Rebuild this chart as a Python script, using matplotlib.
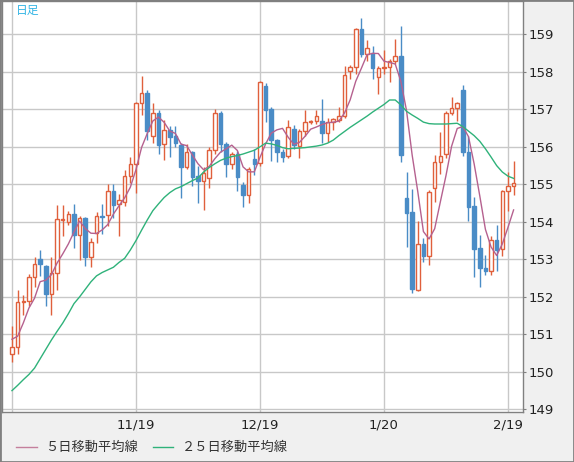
import matplotlib
matplotlib.use("Agg")
import matplotlib.pyplot as plt
from matplotlib.patches import Rectangle
from matplotlib.lines import Line2D
import pandas as pd

# dzienne świece (dni robocze 2025-10-20 .. 2026-02-20)
dates = pd.bdate_range("2025-10-20", "2026-02-20")

opens = [150.47, 150.65, 151.85, 151.89, 152.52, 153.01, 152.82, 152.07, 152.63, 154.05,
         154.00, 154.20, 153.66, 154.10, 153.07, 153.70, 154.16, 154.18, 154.82, 154.47,
         154.52, 155.22, 155.54, 157.16, 157.44, 156.29, 156.90, 156.08, 156.45, 156.29,
         156.05, 155.47, 155.87, 155.22, 155.10, 155.16, 155.92, 156.91, 156.07, 155.54,
         155.80, 154.98, 154.72, 155.68, 155.56, 157.63, 157.00, 156.18, 155.87, 155.76,
         156.48, 156.03, 156.41, 156.67, 156.69, 156.69, 156.38, 156.65, 156.72, 156.83,
         158.03, 158.12, 159.15, 158.47, 158.51, 157.87, 158.10, 158.13, 158.29, 158.43,
         154.63, 154.25, 152.18, 153.40, 153.10, 154.90, 155.60, 155.80, 156.90, 157.03,
         157.52, 155.87, 154.42, 153.30, 152.78, 152.70, 153.52, 153.27, 154.82, 154.96]
highs = [151.23, 152.18, 152.05, 152.60, 153.06, 153.25, 152.85, 153.06, 154.45, 154.45,
         154.29, 154.48, 154.16, 154.14, 153.56, 154.25, 154.47, 155.00, 155.00, 154.74,
         155.37, 155.72, 157.20, 157.90, 157.52, 157.18, 156.99, 156.72, 156.55, 156.55,
         156.10, 156.07, 155.90, 155.50, 155.46, 156.00, 157.00, 156.95, 156.14, 155.85,
         155.90, 155.05, 155.45, 155.94, 157.75, 157.71, 157.05, 156.22, 155.95, 156.72,
         156.59, 156.48, 156.98, 156.72, 156.98, 157.27, 156.76, 156.78, 157.06, 158.16,
         158.19, 159.17, 159.43, 158.85, 158.69, 158.15, 158.57, 158.35, 158.87, 159.21,
         155.34, 154.87, 154.02, 153.56, 154.85, 155.78, 156.40, 156.95, 157.32, 157.20,
         157.65, 156.30, 154.65, 153.65, 153.12, 153.62, 153.92, 154.85, 155.34, 155.62]
lows = [150.27, 150.47, 151.52, 151.75, 152.27, 152.56, 151.75, 151.52, 152.18, 153.62,
        153.92, 153.31, 152.98, 152.83, 152.80, 153.44, 153.67, 153.88, 154.10, 153.62,
        154.41, 155.03, 154.78, 156.85, 156.18, 156.10, 155.80, 155.65, 155.72, 156.00,
        154.64, 155.40, 154.96, 154.51, 154.31, 154.90, 155.80, 155.87, 155.20, 155.40,
        154.82, 154.39, 154.50, 155.25, 155.50, 156.67, 155.63, 155.60, 155.60, 155.70,
        155.95, 155.71, 156.30, 156.62, 156.60, 156.11, 156.14, 156.45, 156.65, 156.78,
        157.80, 157.95, 158.40, 158.30, 157.80, 157.41, 157.95, 157.74, 158.20, 155.60,
        153.32, 152.10, 152.16, 152.92, 152.85, 154.54, 155.28, 155.70, 156.85, 156.70,
        155.75, 154.03, 152.54, 152.27, 152.58, 152.57, 152.70, 153.08, 154.29, 154.71]
closes = [150.66, 151.87, 151.90, 152.52, 152.87, 152.87, 152.07, 152.63, 154.07, 154.08,
          154.20, 153.66, 154.10, 153.07, 153.46, 154.16, 154.14, 154.82, 154.46, 154.58,
          155.22, 155.54, 157.16, 157.43, 156.43, 156.90, 156.06, 156.45, 156.27, 156.11,
          155.47, 155.87, 155.20, 155.10, 155.31, 155.92, 156.90, 156.07, 155.54, 155.80,
          155.20, 154.72, 155.41, 155.54, 157.72, 156.99, 156.17, 155.85, 155.74, 156.54,
          156.05, 156.41, 156.67, 156.69, 156.83, 156.38, 156.65, 156.74, 156.83, 157.92,
          158.12, 159.15, 158.47, 158.63, 158.10, 158.10, 158.13, 158.29, 158.43, 155.78,
          154.23, 152.20, 153.40, 153.10, 154.79, 155.60, 155.76, 156.90, 157.03, 157.16,
          155.87, 154.40, 153.28, 152.76, 152.70, 153.52, 153.25, 154.83, 154.96, 155.03]

# pierwsze 4 punkty średniej 5-dniowej (brak wcześniejszych danych)
ma5_head = [150.87, 150.95, 151.30, 151.70]
# średnia 25-dniowa
ma25 = [149.50, 149.64, 149.79, 149.93, 150.10, 150.35, 150.60, 150.85, 151.08, 151.30,
        151.55, 151.82, 152.00, 152.20, 152.40, 152.56, 152.65, 152.72, 152.79, 152.92,
        153.03, 153.25, 153.50, 153.78, 154.05, 154.30, 154.48, 154.65, 154.78, 154.88,
        154.94, 155.02, 155.10, 155.17, 155.33, 155.45, 155.55, 155.64, 155.70, 155.74,
        155.77, 155.81, 155.86, 155.91, 156.00, 156.10, 156.08, 156.04, 155.98, 155.95,
        155.96, 155.97, 155.98, 156.00, 156.02, 156.05, 156.10, 156.18, 156.30, 156.41,
        156.52, 156.62, 156.72, 156.82, 156.93, 157.03, 157.13, 157.25, 157.25, 157.12,
        156.95, 156.85, 156.76, 156.66, 156.62, 156.61, 156.61, 156.61, 156.62, 156.63,
        156.54, 156.42, 156.30, 156.15, 155.95, 155.73, 155.50, 155.33, 155.22, 155.16]

price_ticks = list(range(149, 160))
date_ticks = ["2025-10-20", "2025-11-19", "2025-12-19", "2026-01-20", "2026-02-19"]

up_color = "#e0603c"
down_color = "#4a8cc6"
ma5_color = "#b5618f"
ma25_color = "#2fb27a"
grid_color = "#c8c8c8"

ma5 = pd.Series(closes).rolling(5).mean().tolist()
ma5[:4] = ma5_head

fig = plt.figure(figsize=(5.74, 4.62), dpi=100, facecolor="#f0f0f0")
ax = fig.add_axes([2 / 574, 50 / 462, 521 / 574, 411 / 462])
ax.set_facecolor("white")

x = list(range(len(dates)))
w = 0.62
for i in x:
    o, h, l, c = opens[i], highs[i], lows[i], closes[i]
    if c >= o:
        ax.vlines(i, l, h, color=up_color, lw=1, zorder=2)
        ax.add_patch(Rectangle((i - w / 2, o), w, max(c - o, 0.01), facecolor="white",
                               edgecolor=up_color, lw=1, zorder=3))
    else:
        ax.vlines(i, l, h, color=down_color, lw=1, zorder=2)
        ax.add_patch(Rectangle((i - w / 2, c), w, max(o - c, 0.01), facecolor=down_color,
                               edgecolor=down_color, lw=1, zorder=3))

ax.plot(x, ma5, color=ma5_color, lw=1, zorder=4)
ax.plot(x, ma25, color=ma25_color, lw=1, zorder=4)

ax.set_xlim(-1.77, 90.67)
ax.set_ylim(148.93, 159.89)

tick_idx = [list(dates.strftime("%Y-%m-%d")).index(d) for d in date_ticks]
tick_lab = ["" if k == 0 else f"{dates[k].month}/{dates[k].day}" for k in tick_idx]
ax.set_xticks(tick_idx)
ax.set_xticklabels(tick_lab)
ax.set_yticks(price_ticks)
ax.yaxis.tick_right()
ax.grid(True, color=grid_color, lw=1, zorder=0)
ax.set_axisbelow(True)
ax.tick_params(axis="x", length=0, pad=5, labelsize=9.5, labelcolor="#222222")
ax.tick_params(axis="y", length=2, pad=2, labelsize=9.5, labelcolor="#222222", color="#808080")
for s in ax.spines.values():
    s.set_color("#808080")
    s.set_linewidth(1)

jp = ["Noto Sans CJK JP", "DejaVu Sans"]
fig.text(16 / 574, 1 - 10 / 462, "日足", family=jp, fontsize=8.5, color="#33b5e5", va="center")

ly = 1 - 447 / 462
fig.add_artist(Line2D([16 / 574, 37 / 574], [ly, ly], color="#c47f9c", lw=1))
fig.text(45 / 574, ly, "５日移動平均線", family=jp, fontsize=9.5, color="#333333", va="center")
fig.add_artist(Line2D([153 / 574, 173 / 574], [ly, ly], color=ma25_color, lw=1))
fig.text(182 / 574, ly, "２５日移動平均線", family=jp, fontsize=9.5, color="#333333", va="center")

fig.add_artist(Rectangle((0, 0), 1, 1, transform=fig.transFigure, fill=False,
                         edgecolor="#808080", lw=2))

fig.savefig("out.png", dpi=100, facecolor=fig.get_facecolor())
